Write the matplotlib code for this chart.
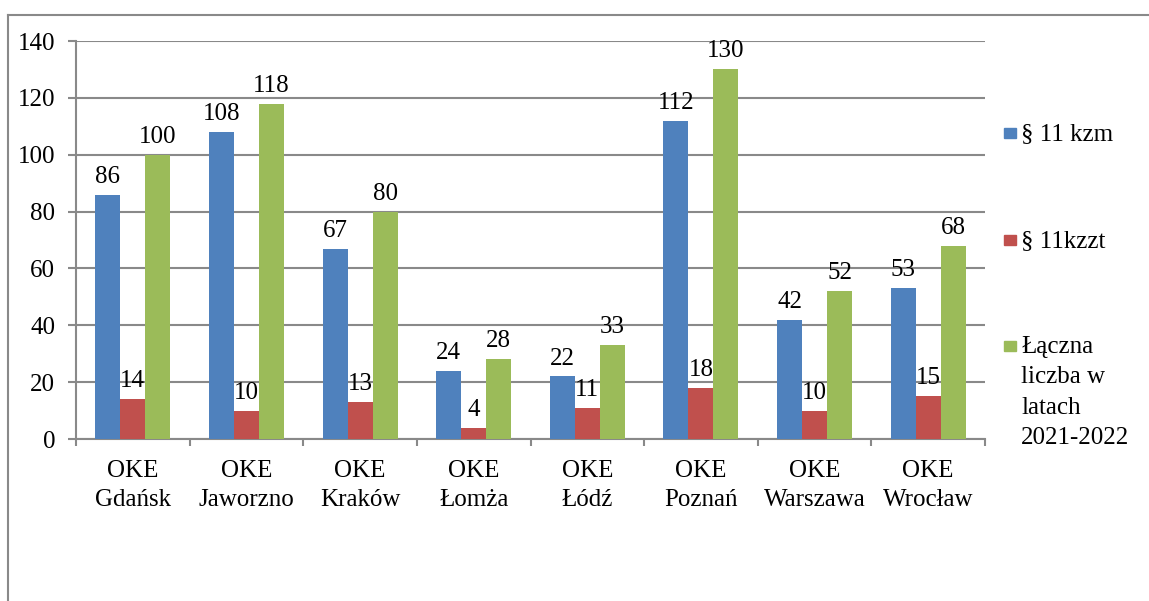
import numpy as np
import matplotlib.pyplot as plt
from matplotlib.patches import Rectangle
from matplotlib.lines import Line2D

plt.rcParams['font.family'] = ['Liberation Serif', 'DejaVu Serif']

categories = ['OKE\nGdańsk', 'OKE\nJaworzno', 'OKE\nKraków', 'OKE\nŁomża',
              'OKE\nŁódź', 'OKE\nPoznań', 'OKE\nWarszawa', 'OKE\nWrocław']
kzm = [86, 108, 67, 24, 22, 112, 42, 53]
kzzt = [14, 10, 13, 4, 11, 18, 10, 15]
total = [100, 118, 80, 28, 33, 130, 52, 68]
series_names = ['§ 11 kzm', '§ 11kzzt', 'Łączna\nliczba w\nlatach\n2021-2022']
colors = ['#4F81BD', '#C0504D', '#9BBB59']
grid_col = '#898989'
fs = 18

fig = plt.figure(figsize=(11.49, 6.01), dpi=100)
ax = fig.add_axes([76 / 1149, 1 - 439 / 601, (985 - 76) / 1149, (439 - 41) / 601])

x = np.arange(len(categories))
w = 0.22
for i, vals in enumerate([kzm, kzzt, total]):
    bars = ax.bar(x + (i - 1) * w, vals, w, color=colors[i], zorder=3)
    for b, v in zip(bars, vals):
        ax.annotate(str(v), (b.get_x() + b.get_width() / 2, v), xytext=(0, 5),
                    textcoords='offset points', ha='center', va='bottom', fontsize=fs)

ax.set_xlim(-0.5, len(categories) - 0.5)
ax.set_ylim(0, 140)
ax.set_yticks(range(0, 141, 20))
ax.yaxis.grid(True, color=grid_col, linewidth=1.5, zorder=0)
ax.set_xticks(x)
ax.set_xticklabels(categories, fontsize=fs, linespacing=1.4)
ax.set_xticks(np.arange(-0.5, len(categories)), minor=True)
ax.tick_params(axis='x', which='major', length=0, pad=15)
ax.tick_params(axis='x', which='minor', length=5, color=grid_col, width=1.5)
ax.tick_params(axis='y', length=6, color=grid_col, width=1.5, labelsize=fs, pad=9)
for s in ['top', 'right']:
    ax.spines[s].set_visible(False)
for s in ['left', 'bottom']:
    ax.spines[s].set_color(grid_col)
    ax.spines[s].set_linewidth(1.5)

# legend drawn by hand so the marker sits on the first text line
leg_y = [133, 240, 346]
for c, name, yy in zip(colors, series_names, leg_y):
    fig.patches.append(Rectangle((1004 / 1149, 1 - (yy + 5) / 601), 12 / 1149, 10 / 601,
                                 transform=fig.transFigure, color=c))
    fig.text(1021 / 1149, 1 - (yy - 10) / 601, name, fontsize=fs, va='top', ha='left',
             linespacing=1.5)

# outer chart frame
fig.add_artist(Line2D([8 / 1149, 1.0], [1 - 15 / 601] * 2, transform=fig.transFigure,
                      color=grid_col, linewidth=1.5))
fig.add_artist(Line2D([8 / 1149] * 2, [0, 1 - 15 / 601], transform=fig.transFigure,
                      color=grid_col, linewidth=1.5))

fig.savefig('out.png', dpi=100)
